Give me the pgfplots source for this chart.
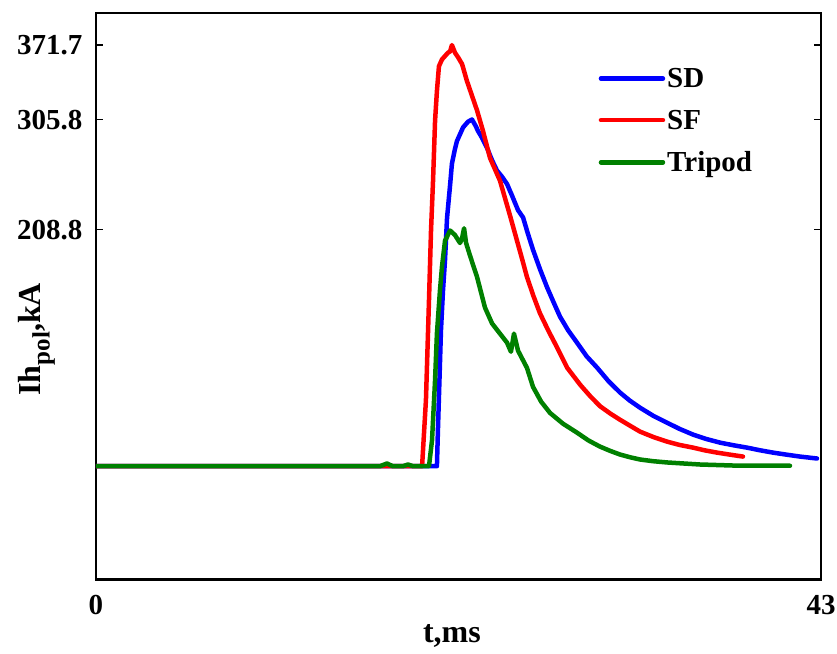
\documentclass[border=0pt]{standalone}
\usepackage{pgfplots}
\pgfplotsset{compat=1.18}
\usepackage{fontspec}
\setmainfont{Liberation Serif}
\newcommand{\bigf}{\fontsize{29}{34}\selectfont\bfseries}
\newcommand{\labf}{\fontsize{32}{36}\selectfont\bfseries}
\definecolor{sdblue}{RGB}{0,0,255}
\definecolor{sfred}{RGB}{255,0,0}
\definecolor{trgreen}{RGB}{0,128,0}
\begin{document}
\begin{tikzpicture}[x=1pt,y=1pt]
\useasboundingbox (0,0) rectangle (837,653);
\begin{axis}[
  at={(96pt,73.5pt)}, anchor=south west,
  scale only axis, width=725pt, height=566.5pt,
  xmin=0, xmax=43, ymin=-100, ymax=400,
  xtick={0,43}, xticklabels={0,43},
  ytick={208.8,305.8,371.7}, yticklabels={208.8,305.8,371.7},
  /pgf/number format/assume math mode=true,
  tick align=inside, major tick length=7pt,
  tick style={line width=1.5pt, black},
  axis line style={line width=2.5pt},
  tick label style={font=\bigf},
  xticklabel style={yshift=-12pt},
  yticklabel style={xshift=-10pt},
  xlabel={t,ms},
  ylabel={Ih\raisebox{-0.3em}{\fontsize{25}{25}\selectfont pol},kA},
  label style={font=\labf},
  xlabel style={at={(rel axis cs:0.491,-0.112)}, anchor=base},
  ylabel style={at={(rel axis cs:-0.0772,0.424)}, anchor=base, rotate=0},
  legend style={draw=none, fill=none, at={(rel axis cs:0.689,0.91)}, anchor=north west, font=\bigf, row sep=17pt},
  legend cell align=left,
  legend image code/.code={\draw[#1] (0pt,0pt) -- (62pt,0pt);},
  every axis plot/.append style={line width=4.5pt, line join=round, line cap=round},
]
\addplot[color=sdblue] coordinates {
(0,0) (20.22,0) (20.28,32) (20.46,120) (20.58,155) (20.70,182) (20.82,219) (21.0,248)
(21.11,267) (21.29,280) (21.41,287) (21.59,293) (21.77,299) (22.06,304) (22.30,306)
(22.53,300) (22.65,296) (22.89,290) (23.19,281) (23.49,270) (23.78,261) (24.08,255.5)
(24.38,249) (24.67,239) (25.03,226) (25.33,219.5) (25.62,205) (25.92,191) (26.33,174) (26.75,158) (27.13,145) (27.52,132)
(28.0,120) (28.53,109) (29.1,97) (29.72,87) (30.4,75) (31.08,65) (31.65,58) (32.27,51.6) (33.05,44.5) (33.87,38.4) (34.6,33) (35.41,27.9) (36.2,24) (37.01,20.8)
(37.8,18.5) (38.61,16.4) (39.4,14) (40.15,12) (40.95,10.2) (41.75,8.5) (42.76,6.8)
};
\addlegendentry{SD}
\addplot[color=sfred] coordinates {
(0,0) (19.34,0) (19.57,58.7) (19.75,146.7) (19.87,208) (19.99,252) (20.11,305) (20.22,331)
(20.34,353) (20.52,359) (20.70,362) (20.88,365) (21.0,366) (21.11,371.7) (21.29,365)
(21.47,361) (21.71,355) (22.00,340) (22.30,327) (22.60,314) (22.95,296) (23.37,272)
(23.96,252) (24.56,221) (24.97,199) (25.27,183) (25.56,167) (25.95,150) (26.33,135) (26.85,119) (27.34,105) (27.94,87)
(28.71,72) (29.3,62) (29.89,53) (30.5,46.5) (31.08,41) (31.7,35.5) (32.27,30.5) (33.05,25.8) (33.87,21.7) (34.6,18.8) (35.41,16.4) (36.1,14) (36.83,12) (37.6,10.2) (38.37,8.5)
};
\addlegendentry{SF}
\addplot[color=trgreen] coordinates {
(0,0) (16.84,0) (17.26,2.4) (17.6,0) (18.2,0) (18.5,1.5) (18.8,0) (19.75,0) (19.93,23) (20.11,76)
(20.22,117) (20.40,155) (20.52,176) (20.70,199) (21.0,208) (21.29,204) (21.59,197)
(21.71,201) (21.83,210) (21.95,197) (22.18,186) (22.60,167) (23.07,140) (23.49,126)
(23.96,117) (24.38,109) (24.61,101) (24.79,117) (25.03,102) (25.56,86.8) (25.92,70)
(26.4,57) (26.93,47) (27.7,37.5) (28.53,29.6) (29.2,22.8) (29.89,17.3) (30.5,13.5) (31.08,10.3) (31.7,7.8) (32.27,5.9) (33.05,4.4) (33.87,3.3) (35.82,1.5)
(37.78,0.6) (41.16,0.4)
};
\addlegendentry{Tripod}
\end{axis}
\end{tikzpicture}
\end{document}
